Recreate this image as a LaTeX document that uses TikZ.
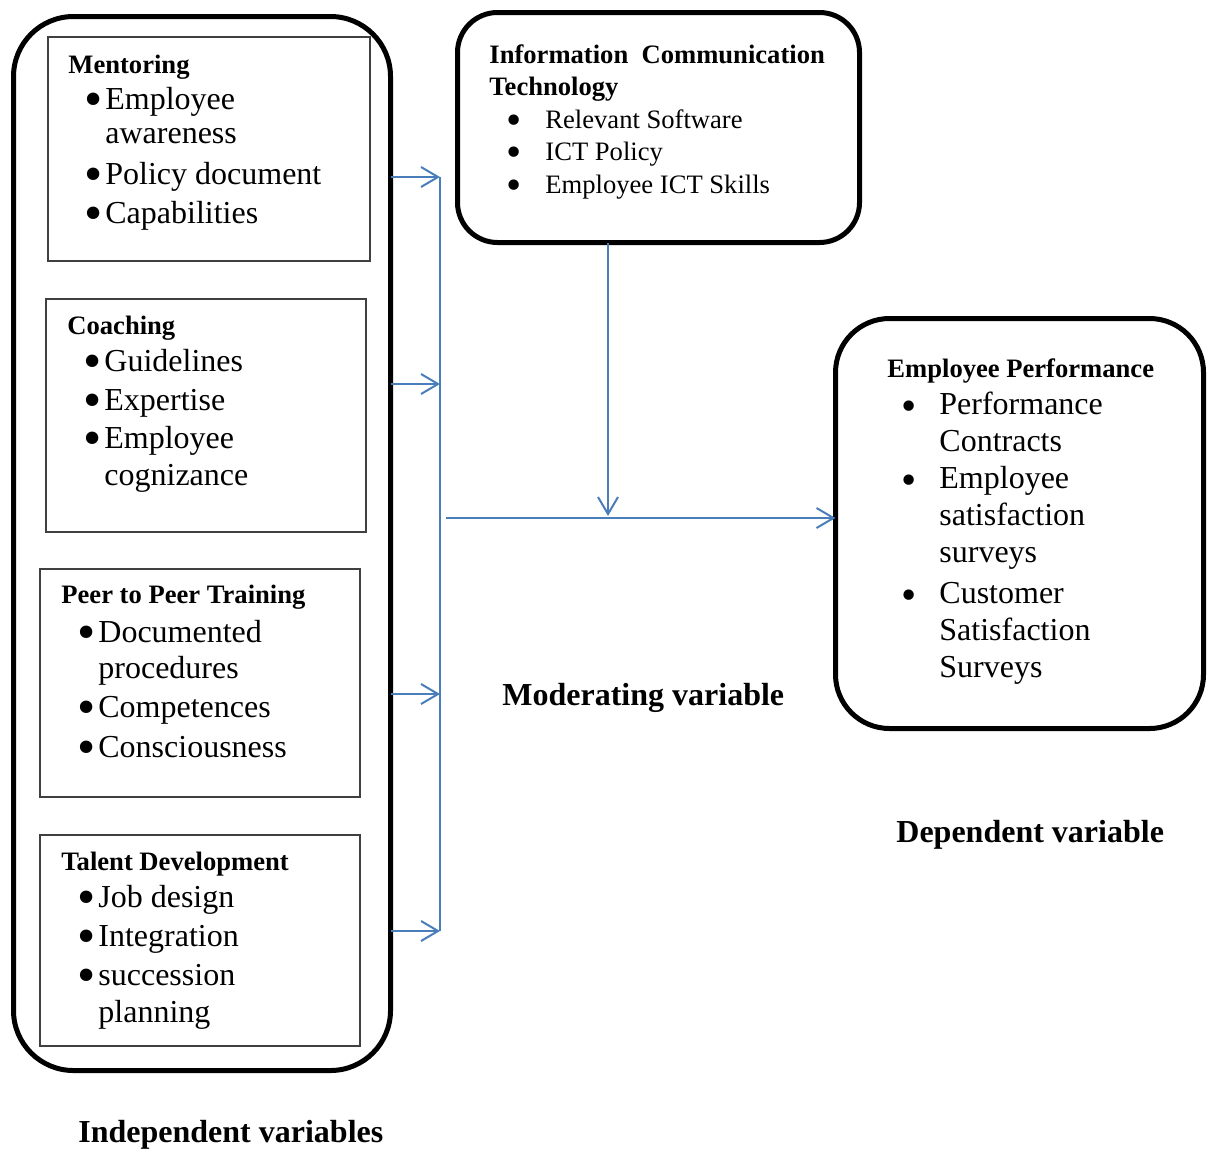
\documentclass[tikz,border=0pt]{standalone}
\usepackage{fontspec}
\setmainfont{Liberation Serif}
\usetikzlibrary{arrows.meta}
\definecolor{linkblue}{HTML}{4A7EBB}
\newcommand\LBul{\makebox[10.5pt][l]{\fontsize{26}{30}\selectfont\raisebox{-3.5pt}{\textbullet}}}
\newcommand\RBul[1]{\makebox[#1][l]{\fontsize{21.7}{25}\selectfont\raisebox{-3pt}{\textbullet}}}
\tikzset{
  bigbox/.style={draw=black, line width=2.5pt, inner sep=0pt, outer sep=0pt},
  subbox/.style={draw=black!75, line width=0.65pt, inner sep=0pt, outer sep=0pt},
  head/.style={anchor=base west, inner sep=0pt, font=\fontsize{13.3}{16}\selectfont\bfseries},
  item/.style={anchor=base west, inner sep=0pt, font=\fontsize{16}{19}\selectfont},
  smallitem/.style={anchor=base west, inner sep=0pt, font=\fontsize{13.3}{16}\selectfont},
  biglabel/.style={anchor=base west, inner sep=0pt, font=\fontsize{16}{19}\selectfont\bfseries},
  link/.style={draw=linkblue, line width=1pt},
  arr/.style={link, -{Straight Barb[length=8.5pt,width=10pt,line width=1pt]}},
}
\begin{document}
\begin{tikzpicture}[x=0.5pt,y=-0.5pt]
\useasboundingbox (0,0) rectangle (1208,1151);

% main boxes
\node[bigbox, rounded corners=30pt, minimum width=188.5pt, minimum height=527pt] (indep) at (202,543.5) {};
\node[bigbox, rounded corners=20pt, minimum width=201pt, minimum height=115pt] (ict) at (658.5,127.5) {};
\node[bigbox, rounded corners=27pt, minimum width=184pt, minimum height=205pt] (perf) at (1019.5,523.5) {};

% sub boxes
\node[subbox, minimum width=161pt, minimum height=112pt] (mentor) at (209,149) {};
\node[subbox, minimum width=160pt, minimum height=116.5pt] (coach) at (206,415.5) {};
\node[subbox, minimum width=160pt, minimum height=114pt] (peer) at (200,683) {};
\node[subbox, minimum width=160pt, minimum height=105.5pt] (talent) at (200,940.5) {};

% Mentoring
\node[head] (mh) at (68,73) {Mentoring};
\node[item] (mt1) at (84,109) {\LBul Employee};
\node[item] (mt1b) at (105,143) {awareness};
\node[item] (mt2) at (84,184) {\LBul Policy document};
\node[item] (mt3) at (84,223) {\LBul Capabilities};

% Coaching
\node[head] (ch) at (67,334) {Coaching};
\node[item] (ct1) at (83,371) {\LBul Guidelines};
\node[item] (ct2) at (83,410) {\LBul Expertise};
\node[item] (ct3) at (83,448) {\LBul Employee};
\node[item] (ct3b) at (104,485) {cognizance};

% Peer to Peer Training
\node[head] (ph) at (61,603) {Peer to Peer Training};
\node[item] (pt1) at (77,642) {\LBul Documented};
\node[item] (pt1b) at (98,678) {procedures};
\node[item] (pt2) at (77,717) {\LBul Competences};
\node[item] (pt3) at (77,757) {\LBul Consciousness};

% Talent Development
\node[head] (th) at (61,870) {Talent Development};
\node[item] (tt1) at (77,907) {\LBul Job design};
\node[item] (tt2) at (77,946) {\LBul Integration};
\node[item] (tt3) at (77,985) {\LBul succession};
\node[item] (tt3b) at (98,1022) {planning};

% ICT
\node[head] (ih1) at (489,63) {Information\ \ Communication};
\node[head] (ih2) at (489,95) {Technology};
\node[smallitem] (it1) at (506,128) {\RBul{19.5pt}Relevant Software};
\node[smallitem] (it2) at (506,160) {\RBul{19.5pt}ICT Policy};
\node[smallitem] (it3) at (506,193) {\RBul{19.5pt}Employee ICT Skills};

% Employee Performance
\node[head] (eh) at (887,377) {Employee Performance};
\node[item] (et1) at (901,414) {\RBul{19pt}Performance};
\node[item] (et1b) at (939,451) {Contracts};
\node[item] (et2) at (901,488) {\RBul{19pt}Employee};
\node[item] (et2b) at (939,525) {satisfaction};
\node[item] (et2c) at (939,562) {surveys};
\node[item] (et3) at (901,603) {\RBul{19pt}Customer};
\node[item] (et3b) at (939,640) {Satisfaction};
\node[item] (et3c) at (939,677) {Surveys};

% labels
\node[biglabel] (modlab) at (502,705) {Moderating variable};
\node[biglabel] (deplab) at (896,842) {Dependent variable};
\node[biglabel] (indlab) at (78,1142) {Independent variables};

% connectors
\coordinate (bus1) at (440,177);
\coordinate (bus2) at (440,384);
\coordinate (bus3) at (440,694);
\coordinate (bus4) at (440,931);
\coordinate (hstart) at (446,518);
\coordinate (dend) at (608,516);

\draw[link] (bus1) -- (bus4);
\draw[arr] (indep.east |- bus1) -- (bus1);
\draw[arr] (indep.east |- bus2) -- (bus2);
\draw[arr] (indep.east |- bus3) -- (bus3);
\draw[arr] (indep.east |- bus4) -- (bus4);
\draw[arr] (hstart) -- (hstart -| perf.west);
\draw[arr] (ict.south -| dend) -- (dend);
\end{tikzpicture}
\end{document}
